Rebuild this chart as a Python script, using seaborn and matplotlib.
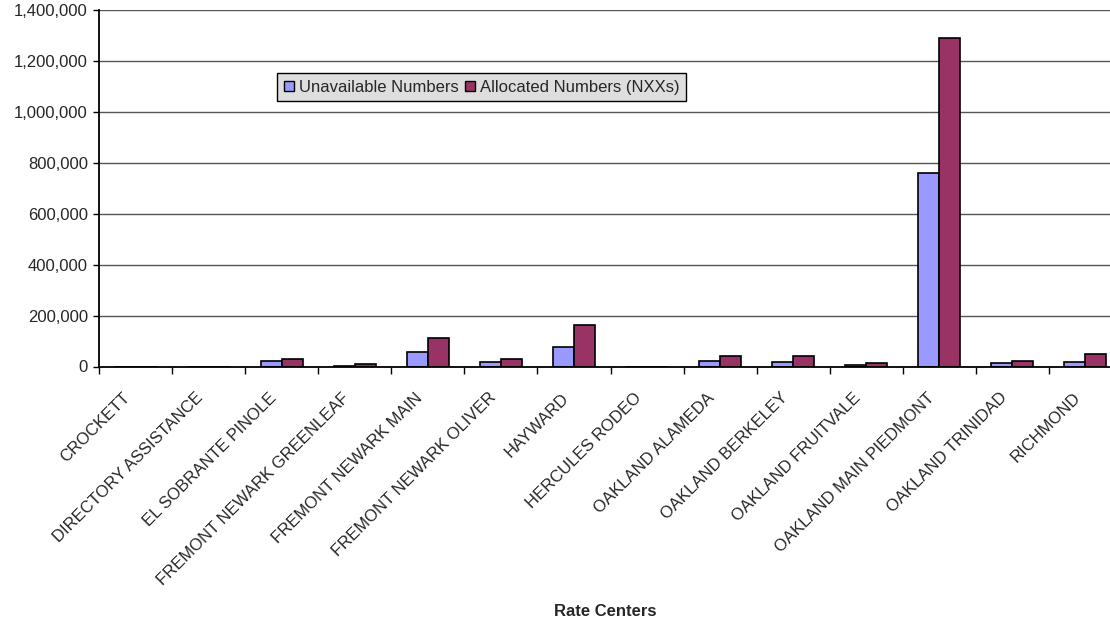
import numpy as np
import pandas as pd
import matplotlib
matplotlib.use("Agg")
import matplotlib.pyplot as plt
from matplotlib.ticker import FuncFormatter, FixedLocator
from matplotlib.transforms import ScaledTranslation
import seaborn as sns

rate_centers = [
    "CROCKETT", "DIRECTORY ASSISTANCE", "EL SOBRANTE PINOLE",
    "FREMONT NEWARK GREENLEAF", "FREMONT NEWARK MAIN", "FREMONT NEWARK OLIVER",
    "HAYWARD", "HERCULES RODEO", "OAKLAND ALAMEDA", "OAKLAND BERKELEY",
    "OAKLAND FRUITVALE", "OAKLAND MAIN PIEDMONT", "OAKLAND TRINIDAD", "RICHMOND",
]
unavailable = [0, 0, 21000, 1500, 55600, 17000, 77600, 0, 21000, 18400,
               6600, 760000, 14500, 17000]
allocated = [0, 0, 29500, 10600, 110000, 30300, 161800, 0, 40800, 40800,
             11800, 1291000, 21000, 50000]
series_names = ["Unavailable Numbers", "Allocated Numbers (NXXs)"]
y_ticks = [0, 200000, 400000, 600000, 800000, 1000000, 1200000, 1400000]
colors = ["#9999FF", "#993366"]

df = pd.DataFrame({
    "Rate Center": rate_centers * 2,
    "Numbers": unavailable + allocated,
    "Series": [series_names[0]] * len(rate_centers) + [series_names[1]] * len(rate_centers),
})

sns.set_theme(style="white")
plt.rcParams["font.family"] = ["Liberation Sans", "DejaVu Sans"]

fig = plt.figure(figsize=(11.1, 6.22), dpi=100)
ax = fig.add_axes([99 / 1110, 1 - 366.5 / 622, 1023 / 1110, 356.5 / 622])

sns.barplot(
    data=df, x="Rate Center", y="Numbers", hue="Series",
    palette=colors, width=0.575, gap=0,
    edgecolor="black", linewidth=1.2, saturation=1, ax=ax, legend=True,
)

ax.set_xlim(-0.5, len(rate_centers) - 0.5)
ax.set_ylim(0, 1400000)
ax.yaxis.set_major_locator(FixedLocator(y_ticks))
ax.yaxis.set_major_formatter(FuncFormatter(lambda v, p: f"{int(v):,}"))
ax.grid(axis="y", color="#555555", linewidth=1)
ax.set_axisbelow(True)

for side in ["top", "right"]:
    ax.spines[side].set_visible(False)
for side in ["left", "bottom"]:
    ax.spines[side].set_color("black")
    ax.spines[side].set_linewidth(1.3)

ax.tick_params(axis="y", which="major", left=True, length=4, width=1,
               color="black", labelsize=12, pad=4)

# category boundaries get tick marks, labels sit near category centres
ax.set_xticks(np.arange(len(rate_centers)))
ax.set_xticklabels(rate_centers, rotation=45, ha="right",
                   rotation_mode="anchor", fontsize=12)
ax.set_xticks(np.arange(len(rate_centers) + 1) - 0.5, minor=True)
ax.tick_params(axis="x", which="major", bottom=False, length=0, pad=12)
ax.tick_params(axis="x", which="minor", bottom=True, length=5, width=1,
               color="black", direction="out")
shift = ScaledTranslation(-0.13, -0.07, fig.dpi_scale_trans)
for lbl in ax.get_xticklabels():
    lbl.set_transform(lbl.get_transform() + shift)

ax.set_ylabel("")
ax.set_xlabel("Rate Centers", fontsize=12, fontweight="bold")
ax.xaxis.set_label_coords((605 - 99) / 1023, -(604 - 366.5) / 356.5)

ax.get_legend().remove()
handles = [plt.Rectangle((0, 0), 1, 1, facecolor=c, edgecolor="black", linewidth=1)
           for c in colors]
leg = fig.legend(
    handles, series_names, loc="upper left",
    bbox_to_anchor=(277 / 1110, 1 - 73 / 622), ncol=2, fontsize=12,
    frameon=True, fancybox=False, framealpha=1, facecolor="#DEDEDE",
    edgecolor="black", borderpad=0.4, handlelength=0.6, handleheight=0.6,
    handletextpad=0.3, columnspacing=0.4, borderaxespad=0,
)
leg.get_frame().set_linewidth(1)

fig.savefig("out.png", dpi=100)
